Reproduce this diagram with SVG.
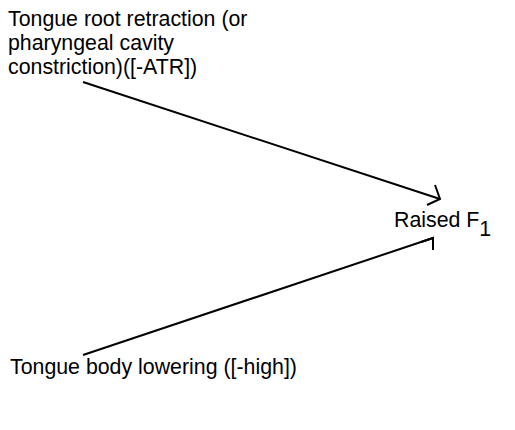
<svg xmlns="http://www.w3.org/2000/svg" width="515" height="430" viewBox="0 0 515 430">
<style>
text{font-family:"Liberation Sans",Arial,sans-serif;font-size:21.33px;fill:#000}
.ln{stroke:#000;stroke-width:2;fill:none}
</style>
<rect width="515" height="430" fill="#fff"/>
<g id="n-atr">
<text x="8" y="26">Tongue root retraction (or</text>
<text x="8" y="50">pharyngeal cavity</text>
<text x="8" y="74">constriction)([-ATR])</text>
</g>
<g id="n-f1">
<text x="394" y="227">Raised F<tspan dy="9">1</tspan></text>
</g>
<g id="n-high">
<text x="10" y="374">Tongue body lowering ([-high])</text>
</g>
<g id="connectors">
<path class="ln" d="M83,82 L440,199"/>
<path class="ln" d="M435,185 L440,199 L427,205"/>
<path class="ln" d="M83,355 L433,238"/>
<path class="ln" d="M421,242 L433,238 L433,250"/>
</g>
</svg>
